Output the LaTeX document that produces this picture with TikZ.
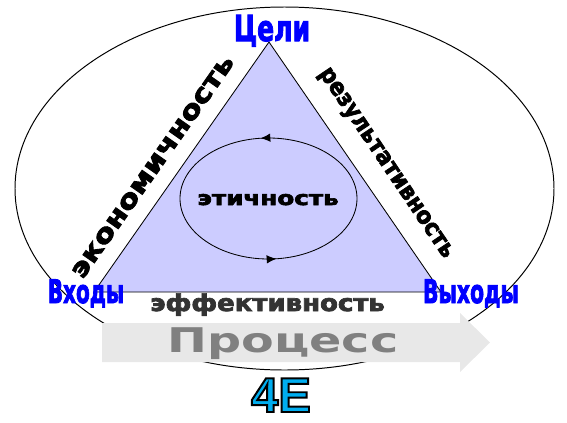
\documentclass[tikz,border=0pt]{standalone}
\usepackage{fontspec}
\setmainfont{DejaVu Sans}
\newfontfamily\heavyfont{DejaVu Sans Bold}[FakeBold=3]
\newfontfamily\arialfont{Liberation Sans}
\usetikzlibrary{decorations.markings,arrows.meta}
\definecolor{trifill}{RGB}{204,204,255}
\definecolor{darktext}{RGB}{51,51,51}
\definecolor{procgray}{RGB}{128,128,128}
\definecolor{procfill}{RGB}{232,232,232}
\newcommand{\outlined}[1]{\special{pdf:literal direct 0 0 0 RG 1.4 w 2 Tr}#1\special{pdf:literal direct 0 Tr}}
\tikzset{>=Latex}

\begin{document}
\begin{tikzpicture}[x=0.025cm,y=-0.025cm,
  cornerlbl/.style={text=blue,inner sep=0pt,anchor=base,font=\heavyfont\fontsize{23}{24}\selectfont},
  sidelbl/.style={inner sep=0pt,font=\heavyfont\fontsize{17}{18}\selectfont},
  fourlbl/.style={inner sep=0pt,anchor=base,font=\arialfont\bfseries\fontsize{34.8}{36}\selectfont},
  cyclearrow/.style={postaction={decorate},decoration={markings,
    mark=at position 0.233 with {\arrowreversed{Latex[length=7pt,width=6pt]}},
    mark=at position 0.733 with {\arrowreversed{Latex[length=7pt,width=6pt]}}}}]
\useasboundingbox (0,0) rectangle (567,422);
% outer oval
\draw[line width=0.7pt] (284.5,188.5) ellipse [x radius=269.5,y radius=181.5];
% triangle
\coordinate (goal) at (269,42);
\coordinate (in) at (94,292);
\coordinate (out) at (441,292);
\filldraw[fill=trifill,line width=0.6pt] (in) -- (goal) -- (out) -- cycle;
% inner cycle
\draw[line width=0.6pt,cyclearrow] (268.5,198.5) ellipse [x radius=88.5,y radius=60.5];
\node[sidelbl,anchor=base,font=\heavyfont\fontsize{14}{15}\selectfont] (ethics) at (268,205) {\scalebox{1.25}[1]{этичность}};
% process arrow
\fill[procfill] (102,323) -- (460,323) -- (460,313) -- (490,342.5) -- (460,372) -- (460,362) -- (102,362) -- cycle;
\node[anchor=base,inner sep=0pt,text=procgray,font=\bfseries\fontsize{24.2}{25}\selectfont] (proc) at (283,352) {\scalebox{1.4}[1]{Процесс}};
% corners
\node[cornerlbl,font=\heavyfont\fontsize{25.5}{26}\selectfont] (goaltxt) at (272,41) {\scalebox{0.7}[1]{Цели}};
\node[cornerlbl] (intxt) at (86,303) {\scalebox{0.62}[1]{Входы}};
\node[cornerlbl] (outtxt) at (471,303) {\scalebox{0.63}[1]{Выходы}};
% sides
\node[sidelbl,rotate=55,font=\heavyfont\fontsize{18.5}{19}\selectfont] (econ) at (153,167) {\scalebox{1.17}[1]{экономичность}};
\node[sidelbl,rotate=-56,font=\heavyfont\fontsize{16.8}{18}\selectfont] (result) at (385,164) {\scalebox{0.92}[1]{результативность}};
\node[sidelbl,anchor=base,text=darktext,font=\heavyfont\fontsize{16.5}{18}\selectfont] (effic) at (267.5,311) {\scalebox{1.12}[1]{эффективность}};
% 4E
\node[fourlbl,text=cyan] (four) at (281,412) {\outlined{4E}};
\end{tikzpicture}
\end{document}
